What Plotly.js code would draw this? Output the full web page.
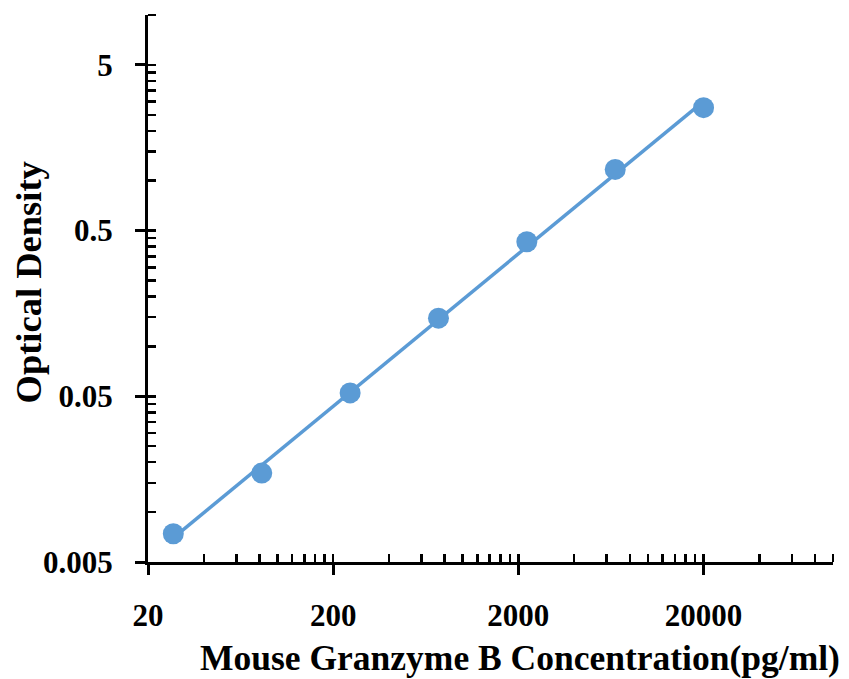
<!DOCTYPE html>
<html>
<head>
<meta charset="utf-8">
<script src="https://cdn.plot.ly/plotly-3.0.1.min.js"></script>
<style>html,body{margin:0;padding:0;background:#fff;}#chart{width:849px;height:679px;}</style>
</head>
<body>
<div id="chart"></div>
<script>
// Data
var concentration = [27.4, 82.3, 246.9, 740.7, 2222, 6667, 20000];
var opticalDensity = [0.0074, 0.0172, 0.0524, 0.148, 0.428, 1.17, 2.76];

var xTickVals = [20, 200, 2000, 20000];
var xTickText = ["20", "200", "2000", "20000"];
var yTickVals = [0.005, 0.05, 0.5, 5];
var yTickText = ["0.005", "0.05", "0.5", "5"];

var xMinorVals = [40, 60, 80, 100, 120, 140, 160, 180, 200,
  400, 600, 800, 1000, 1200, 1400, 1600, 1800, 2000,
  4000, 6000, 8000, 10000, 12000, 14000, 16000, 18000, 20000,
  40000, 60000, 80000, 100000];
var yMinorVals = [0.01, 0.015, 0.02, 0.025, 0.03, 0.035, 0.04, 0.045, 0.05,
  0.1, 0.15, 0.2, 0.25, 0.3, 0.35, 0.4, 0.45, 0.5,
  1, 1.5, 2, 2.5, 3, 3.5, 4, 4.5, 5, 10];

var xTitle = "Mouse Granzyme B Concentration(pg/ml)";
var yTitle = "Optical Density";

var serif = "Liberation Serif, Times New Roman, serif";
var blue = "#5B9BD5";

// Power trendline (least squares in log-log space) fitted to the data
var lx = concentration.map(Math.log10), ly = opticalDensity.map(Math.log10);
var n = lx.length, mx = 0, my = 0;
for (var i = 0; i < n; i++) { mx += lx[i] / n; my += ly[i] / n; }
var sxy = 0, sxx = 0;
for (var j = 0; j < n; j++) { sxy += (lx[j] - mx) * (ly[j] - my); sxx += (lx[j] - mx) * (lx[j] - mx); }
var slope = sxy / sxx, intercept = my - slope * mx;
var fitX = [concentration[0], concentration[n - 1]];
var fitY = fitX.map(function (v) { return Math.pow(10, intercept + slope * Math.log10(v)); });

var fitTrace = {
  x: fitX, y: fitY, type: "scatter", mode: "lines",
  line: {color: blue, width: 3.5}, showlegend: false, hoverinfo: "skip"
};
var pointTrace = {
  x: concentration, y: opticalDensity, type: "scatter", mode: "markers",
  marker: {color: blue, size: 21}, showlegend: false, cliponaxis: false
};

var layout = {
  width: 849,
  height: 679,
  margin: {l: 148, r: 16, t: 15, b: 117},
  paper_bgcolor: "#ffffff",
  plot_bgcolor: "#ffffff",
  font: {family: serif, color: "#000000"},
  xaxis: {
    type: "log",
    range: [Math.log10(20), Math.log10(100000)],
    showgrid: false,
    zeroline: false,
    showline: true,
    linecolor: "#000000",
    linewidth: 3,
    ticks: "outside",
    ticklen: 10,
    tickwidth: 3,
    tickcolor: "#000000",
    tickmode: "array",
    tickvals: xTickVals,
    ticktext: xTickText,
    ticklabelstandoff: 14,
    tickfont: {family: serif, size: 31, color: "#000000", weight: "bold"},
    minor: {tickmode: "array", tickvals: xMinorVals, ticks: "inside", ticklen: 8, tickwidth: 2.5, tickcolor: "#000000", showgrid: false}
  },
  yaxis: {
    type: "log",
    range: [Math.log10(0.005), Math.log10(10)],
    showgrid: false,
    zeroline: false,
    showline: true,
    linecolor: "#000000",
    linewidth: 3,
    ticks: "outside",
    ticklen: 10,
    tickwidth: 3,
    tickcolor: "#000000",
    tickmode: "array",
    tickvals: yTickVals,
    ticktext: yTickText,
    ticklabelstandoff: 16,
    tickfont: {family: serif, size: 31, color: "#000000", weight: "bold"},
    minor: {tickmode: "array", tickvals: yMinorVals, ticks: "inside", ticklen: 8, tickwidth: 2.5, tickcolor: "#000000", showgrid: false}
  },
  annotations: [{
    text: xTitle,
    xref: "paper", yref: "paper",
    x: 0.5434, y: -0.176,
    xanchor: "center", yanchor: "middle",
    showarrow: false,
    font: {family: serif, size: 35.5, color: "#000000", weight: "bold"}
  }, {
    text: yTitle,
    xref: "paper", yref: "paper",
    x: -0.1752, y: 0.511,
    xanchor: "center", yanchor: "middle",
    textangle: -90,
    showarrow: false,
    font: {family: serif, size: 36.5, color: "#000000", weight: "bold"}
  }]
};

Plotly.newPlot("chart", [fitTrace, pointTrace], layout, {staticPlot: true, displayModeBar: false});
</script>
</body>
</html>
